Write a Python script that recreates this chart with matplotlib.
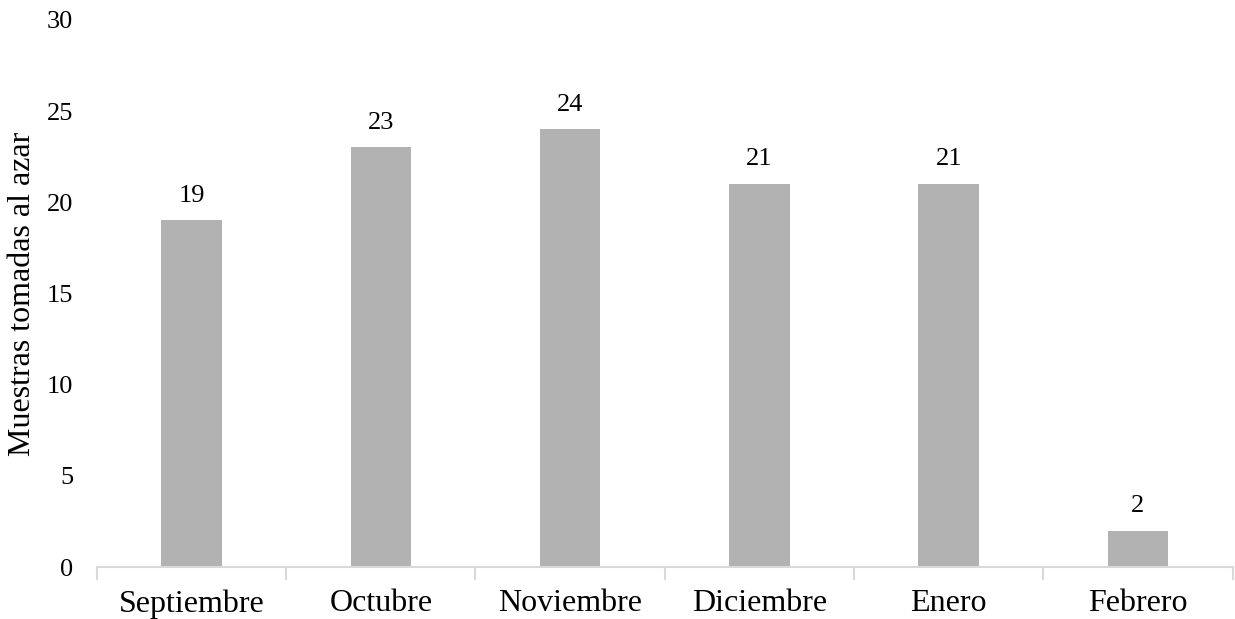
import matplotlib.pyplot as plt
import numpy as np

months = ['Septiembre', 'Octubre', 'Noviembre', 'Diciembre', 'Enero', 'Febrero']
samples = [19, 23, 24, 21, 21, 2]

plt.rcParams['font.family'] = ['Liberation Serif', 'DejaVu Serif']

fig = plt.figure(figsize=(12.35, 6.19), dpi=100)
ax = fig.add_axes([0.0785, 0.084, 0.9195, 0.884])

x = np.arange(len(months))
ax.bar(x, samples, width=0.32, color='#B2B2B2')
for xi, v in zip(x, samples):
    ax.text(xi, v + 0.75, str(v), ha='center', va='bottom', fontsize=19)

ax.set_xlim(-0.5, len(months) - 0.5)
ax.set_ylim(0, 30)
ax.set_yticks(range(0, 31, 5))
ax.tick_params(axis='y', length=0, labelsize=19, pad=17)

# category labels centred, tick marks between categories
ax.set_xticks(x)
ax.set_xticklabels(months, fontsize=23)
ax.tick_params(axis='x', which='major', length=0, pad=16)
ax.set_xticks(np.arange(-0.5, len(months)), minor=True)
ax.tick_params(axis='x', which='minor', length=9, color='#D9D9D9', width=1.5)

for s in ['top', 'right', 'left']:
    ax.spines[s].set_visible(False)
ax.spines['bottom'].set_color('#D9D9D9')
ax.spines['bottom'].set_linewidth(1.5)

ax.set_ylabel('Muestras tomadas al azar', fontsize=23, labelpad=7)

fig.savefig('out.png')
